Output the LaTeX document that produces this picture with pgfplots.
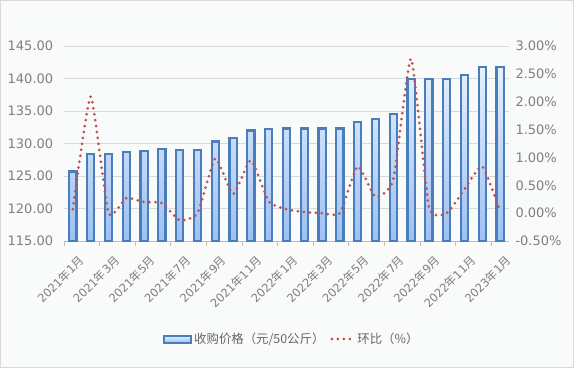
\documentclass[border=0pt]{standalone}
\usepackage{pgfplots}
\pgfplotsset{compat=1.18}
\usepackage{fontspec}
\setmainfont{DejaVu Sans}
\newfontfamily\cjk{Noto Sans CJK SC}
\newcommand{\N}{{\cjk 年}}
\newcommand{\Y}{{\cjk 月}}
\definecolor{barblue}{HTML}{4A7EBB}
\definecolor{bartop}{HTML}{E6F0FD}
\definecolor{barbot}{HTML}{9DC0F4}
\definecolor{dotred}{HTML}{C0504D}
\definecolor{tickgray}{HTML}{7F7F7F}
\definecolor{gridgray}{HTML}{D9D9D9}
\definecolor{bggray}{HTML}{F9FAFA}
\definecolor{legtext}{HTML}{666666}
\pgfplotsset{
  dotlegend/.style={legend image code/.code={\draw[##1] (0pt,0pt) -- (22pt,0pt);}},
  barlegend/.style={legend image code/.code={\draw[draw=barblue, line width=2pt, top color=bartop, bottom color=barbot] (0pt,-3.5pt) rectangle (27pt,3.5pt);}},
}

\begin{document}
\begin{tikzpicture}
\fill[bggray] (-64pt,-127pt) rectangle (510pt,241pt);
\draw[gridgray, line width=1pt] (-63.5pt,-126.5pt) rectangle (509.5pt,240.5pt);
\begin{axis}[
  at={(0pt,0pt)}, anchor=south west,
  scale only axis, width=445pt, height=195pt,
  xmin=-0.5, xmax=24.5, ymin=115, ymax=145,
  y coord trafo/.code={\pgfmathparse{#1-115}},
  y coord inv trafo/.code={\pgfmathparse{#1+115}},
  ytick={115,120,125,130,135,140,145},
  axis x line*=bottom, axis y line*=left,
  y axis line style={draw=none},
  x axis line style={draw=black!25, line width=0.8pt, -},
  ytick style={draw=none},
  xtick={0,2,...,24},
  xticklabels={2021\N1\Y,2021\N3\Y,2021\N5\Y,2021\N7\Y,2021\N9\Y,2021\N11\Y,2022\N1\Y,2022\N3\Y,2022\N5\Y,2022\N7\Y,2022\N9\Y,2022\N11\Y,2023\N1\Y},
  minor xtick={-0.5,1.5,...,24.5},
  major x tick style={draw=none},
  minor x tick style={draw=black!25, line width=0.8pt},
  tick align=outside, minor tick length=5pt,
  xticklabel style={rotate=45, anchor=north east, font=\fontsize{11.5}{13}\selectfont, text=tickgray, yshift=-9pt, xshift=-2pt, inner sep=1pt},
  yticklabel style={font=\fontsize{13}{15}\selectfont, text=tickgray, xshift=-3pt},
  /pgf/number format/assume math mode=true,
  yticklabel={\pgfmathprintnumber[fixed,fixed zerofill,precision=2]{\tick}},
  ymajorgrids, grid style={draw=gridgray, line width=0.8pt},
]
\addplot[ybar, bar width=7.2pt, draw=barblue, line width=2.3pt, top color=bartop, bottom color=barbot]
coordinates {
(0,125.7) (1,128.4) (2,128.4) (3,128.7) (4,128.9) (5,129.2) (6,129.0) (7,129.0)
(8,130.3) (9,130.8) (10,132.0) (11,132.2) (12,132.3) (13,132.3) (14,132.3) (15,132.3)
(16,133.3) (17,133.8) (18,134.5) (19,139.9) (20,139.9) (21,139.9) (22,140.5) (23,141.8) (24,141.8)
};
\end{axis}
\begin{axis}[
  at={(0pt,0pt)}, anchor=south west,
  scale only axis, width=445pt, height=195pt,
  xmin=-0.5, xmax=24.5, ymin=-0.5, ymax=3.0,
  ytick={-0.5,0,0.5,1,1.5,2,2.5,3},
  axis y line*=right, axis x line=none,
  y axis line style={draw=none}, ytick style={draw=none},
  yticklabel style={font=\fontsize{13}{15}\selectfont, text=tickgray, xshift=3pt},
  /pgf/number format/assume math mode=true,
  yticklabel={\pgfmathprintnumber[fixed,fixed zerofill,precision=2]{\tick}\%},
  legend style={at={(0.512,-0.5026)}, anchor=center, draw=none, fill=none,
    font=\cjk\fontsize{12.4}{14}\selectfont, text=legtext, legend columns=2,
    /tikz/every even column/.append style={column sep=4pt}},
]
\addlegendimage{barlegend}
\addlegendentry{收购价格（元/50公斤）}
\addplot[dotred, line width=3pt, line cap=round, dash pattern=on 0pt off 6pt, smooth, tension=0.3, dotlegend]
coordinates {
(0,0.07) (1,2.09) (2,0.0) (3,0.27) (4,0.2) (5,0.18) (6,-0.13) (7,0.0)
(8,0.98) (9,0.34) (10,0.95) (11,0.21) (12,0.07) (13,0.02) (14,0.0) (15,0.0)
(16,0.84) (17,0.29) (18,0.6) (19,2.77) (20,0.11) (21,0.0) (22,0.43) (23,0.84) (24,0.03)
};
\addlegendentry{环比（\%）}
\end{axis}
\pgfresetboundingbox
\path (-64pt,-127pt) rectangle (510pt,241pt);
\end{tikzpicture}
\end{document}
